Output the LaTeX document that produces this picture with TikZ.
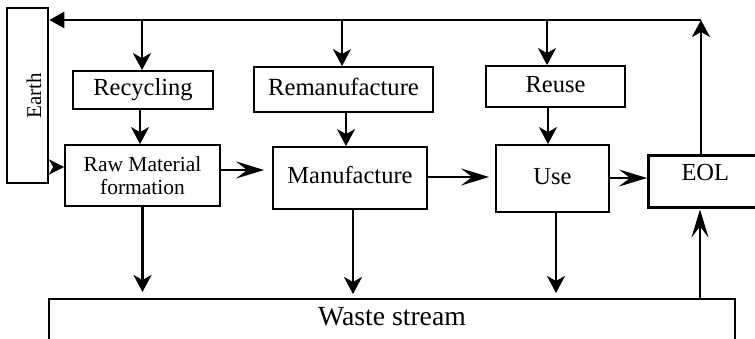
\documentclass[tikz,border=0pt]{standalone}
\usepackage{fontspec}
\setmainfont{Liberation Serif}
\usetikzlibrary{arrows.meta,calc}
\begin{document}
\begin{tikzpicture}[x=1pt,y=-1pt,
  box/.style={draw, line width=1.8pt, inner sep=0pt, text height=17pt, text depth=5.4pt},
  fs/.style={font=\fontsize{#1}{#1}\selectfont},
  arr/.style={line width=2.5pt, -{Stealth[length=17pt,width=18pt,inset=5pt]}},
  arrl/.style={line width=2.5pt, -{Stealth[length=28pt,width=17pt,inset=11pt]}},
  arrt/.style={line width=2.5pt, -{Triangle[length=15pt,width=16pt]}},
]
\useasboundingbox (0,0) rectangle (755,339);
\clip (0,0) rectangle (755,339);

% boxes
\node[draw, line width=2.6pt, inner sep=0pt, minimum width=41, minimum height=175, fs=21]
  (earth) at (27.5,95.5) {\hspace*{13pt}\rotatebox{90}{Earth}};
\node[box, fs=24.5, minimum width=140, minimum height=38] (rec) at (143,90) {Recycling};
\node[box, fs=24.7, minimum width=179, minimum height=45] (reman) at (343.5,89.5) {Remanufacture};
\node[box, fs=24.5, minimum width=139, minimum height=41] (reuse) at (555.5,86.5) {Reuse};
\node[draw, line width=1.8pt, inner sep=0pt, align=center, font=\fontsize{21.5}{23.7}\selectfont,
  minimum width=155, minimum height=61] (raw) at (142.5,175.5) {Raw Material\\formation};
\node[box, fs=24.5, minimum width=154, minimum height=62] (man) at (350,178) {Manufacture};
\node[box, fs=24.5, minimum width=113, minimum height=67] (use) at (552.5,178.5) {Use};
\node[box, line width=3pt, fs=24.5, anchor=west, minimum width=153, minimum height=52,
  text width=87pt, align=left, text depth=19pt] (eol) at (647,182) {EOL};
\node[box, fs=27.7, anchor=north, minimum width=686, text height=27pt, text depth=30pt]
  (waste) at (392,298) {Waste stream};

% top return line
\coordinate (tr) at (701,20);
\draw[arr] (eol.north -| tr) -- (tr);
\draw[arrt] (tr) -- (earth.east |- tr);

% down arrows from top line
\coordinate (xrec) at ([xshift=-1pt]rec.north);
\coordinate (xrem) at ([xshift=-1.5pt]reman.north);
\coordinate (xreu) at ([xshift=-8.5pt]reuse.north);
\draw[arr] (xrec |- tr) -- (xrec);
\draw[arr] (xrem |- tr) -- (xrem);
\draw[arr] (xreu |- tr) -- (xreu);

% boxes to lower row
\coordinate (rr) at ([xshift=-3pt]rec.south);
\draw[arr] (rr) -- (rr |- raw.north);
\coordinate (mm) at ([xshift=2.5pt]reman.south);
\draw[arr] (mm) -- (mm |- man.north);
\coordinate (uu) at ([xshift=-7.5pt]reuse.south);
\draw[arr] (uu) -- (uu |- use.north);

% horizontal flow
\coordinate (er) at ([yshift=8.5pt]raw.west);
\draw[arr, -{Stealth[length=15pt,width=15pt,inset=4pt]}, shorten <=5pt] (earth.east |- er) -- (er);
\coordinate (rm) at ([yshift=5.5pt]raw.east);
\draw[arrl, shorten >=8pt] (rm) -- (man.west |- rm);
\coordinate (mu) at ([yshift=1pt]man.east);
\draw[arrl, shorten >=6pt] (mu) -- (use.west |- mu);
\coordinate (ue) at ([yshift=0.5pt]use.east);
\draw[arrl] (ue) -- (eol.west |- ue);

% to waste stream
\draw[arr, shorten >=6pt] (raw.south) -- (raw.south |- waste.north);
\coordinate (mw) at ([xshift=3pt]man.south);
\draw[arr, shorten >=4pt] (mw) -- (mw |- waste.north);
\coordinate (uw) at ([xshift=3.5pt]use.south);
\draw[arr, shorten >=5pt] (uw) -- (uw |- waste.north);

% waste to EOL
\coordinate (we) at ([xshift=-1pt]tr);
\draw[arrl] (waste.north -| we) -- (eol.south -| we);
\end{tikzpicture}
\end{document}
